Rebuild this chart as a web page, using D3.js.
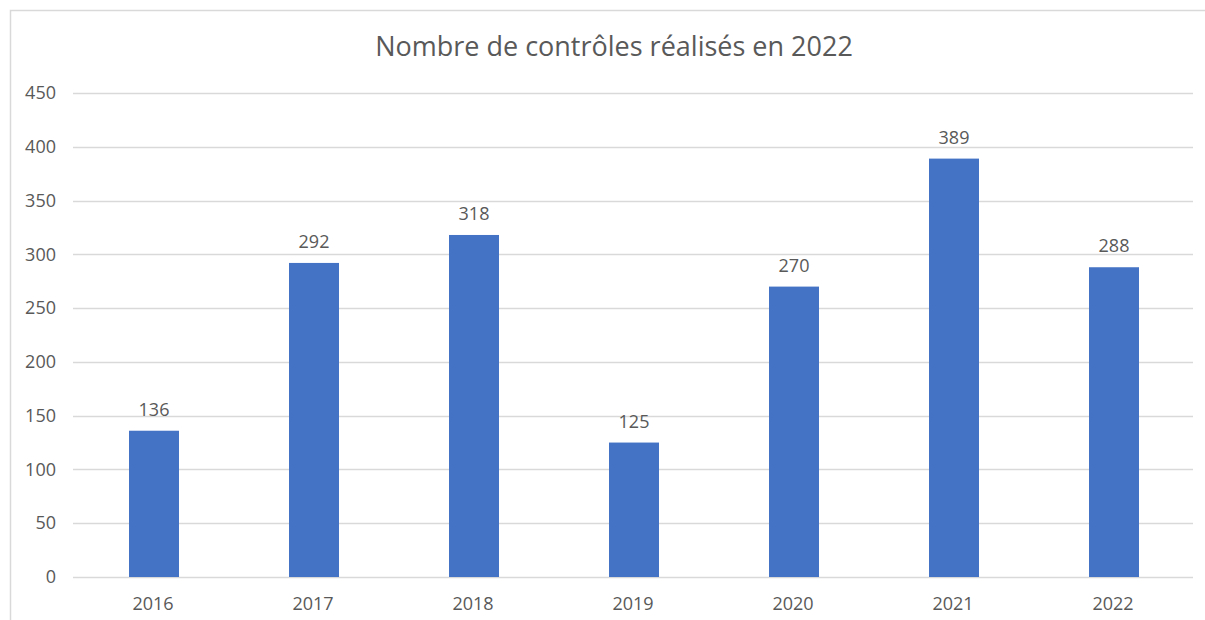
<!DOCTYPE html>
<html>
<head>
<meta charset="utf-8" />
<title>Nombre de contrôles réalisés en 2022</title>
<script src="https://d3js.org/d3.v7.min.js"></script>
<style>
  body { margin: 0; background: #fff; }
  svg text { font-family: "Open Sans", sans-serif; fill: #595959; }
</style>
</head>
<body>
<svg id="chart" width="1205" height="620"></svg>
<script>
  // data
  var years = ["2016", "2017", "2018", "2019", "2020", "2021", "2022"];
  var controles = [136, 292, 318, 125, 270, 389, 288];
  var yTicks = [0, 50, 100, 150, 200, 250, 300, 350, 400, 450];

  var svg = d3.select("#chart");

  // chart frame (only top and left edges fall inside the window)
  svg.append("rect")
    .attr("x", 10.5).attr("y", 10.5)
    .attr("width", 1230).attr("height", 640)
    .attr("fill", "none")
    .attr("stroke", "#d9d9d9")
    .attr("stroke-width", 1.5);

  var plotLeft = 73, plotRight = 1193, plotTop = 93, plotBottom = 577;

  var x = d3.scaleBand().domain(years).range([plotLeft, plotRight]).padding(0);
  var y = d3.scaleLinear().domain([0, 450]).range([plotBottom, plotTop]);

  svg.append("text")
    .attr("x", 614).attr("y", 56)
    .attr("text-anchor", "middle")
    .style("font-size", "27px")
    .text("Nombre de contrôles réalisés en 2022");

  // gridlines
  svg.append("g").selectAll("line")
    .data(yTicks)
    .enter().append("line")
    .attr("x1", plotLeft).attr("x2", plotRight)
    .attr("y1", function(d) { return Math.round(y(d)) + 0.5; })
    .attr("y2", function(d) { return Math.round(y(d)) + 0.5; })
    .attr("stroke", "#d9d9d9")
    .attr("stroke-width", 1.5);

  // y axis labels
  var yAxis = d3.axisLeft(y).tickValues(yTicks).tickSize(0).tickPadding(17);
  var gy = svg.append("g").attr("transform", "translate(" + plotLeft + ",0)").call(yAxis);
  gy.select(".domain").remove();
  gy.selectAll("text").style("font-size", "18px").attr("fill", "#595959");

  // x axis labels
  var xAxis = d3.axisBottom(x).tickSize(0).tickPadding(20);
  var gx = svg.append("g").attr("transform", "translate(0," + plotBottom + ")").call(xAxis);
  gx.select(".domain").remove();
  gx.selectAll("text").style("font-size", "18px").attr("fill", "#595959");

  var barW = 50;
  svg.append("g").selectAll("rect")
    .data(controles)
    .enter().append("rect")
    .attr("x", function(d, i) { return x(years[i]) + x.bandwidth() / 2 - barW / 2 + 1; })
    .attr("y", function(d) { return y(d); })
    .attr("width", barW)
    .attr("height", function(d) { return plotBottom - y(d); })
    .attr("fill", "#4472c4");

  svg.append("g").selectAll("text")
    .data(controles)
    .enter().append("text")
    .attr("x", function(d, i) { return x(years[i]) + x.bandwidth() / 2 + 1; })
    .attr("y", function(d) { return y(d) - 15; })
    .attr("text-anchor", "middle")
    .style("font-size", "18px")
    .text(function(d) { return d; });
</script>
</body>
</html>
